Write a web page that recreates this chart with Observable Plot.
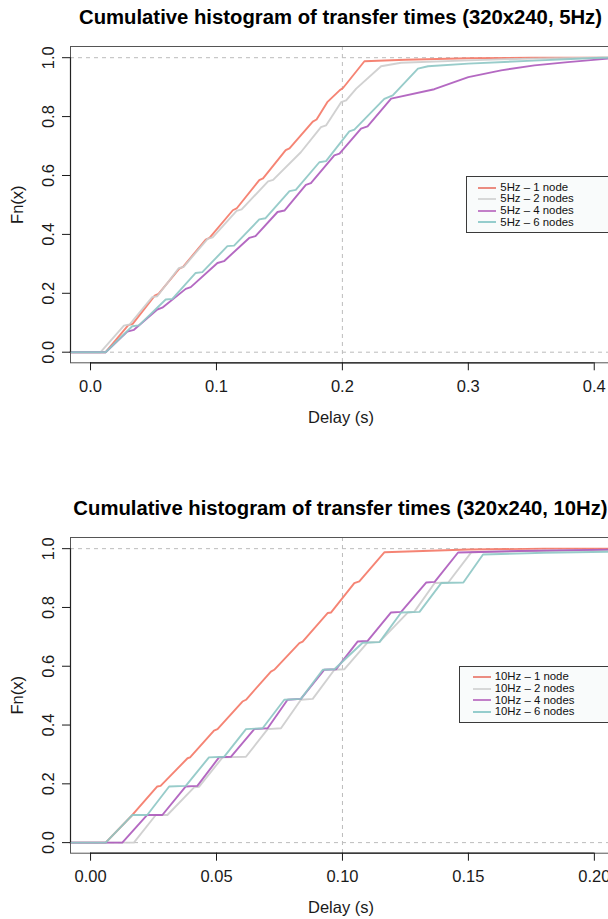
<!DOCTYPE html>
<html><head><meta charset="utf-8">
<script src="https://cdn.jsdelivr.net/npm/d3@7"></script>
<script src="https://cdn.jsdelivr.net/npm/@observablehq/plot@0.6"></script>
<style>
html,body{margin:0;padding:0;background:#fff;overflow:hidden;}
#wrap{width:608px;height:919px;overflow:hidden;position:relative;font-family:"Liberation Sans",Arial,Helvetica,sans-serif;}
.block{position:relative;width:620px;overflow:visible;}
.block > svg{display:block;}
.title{position:absolute;left:70px;width:541px;text-align:center;white-space:nowrap;font-weight:bold;font-size:20.3px;line-height:20px;color:#000;}
.legend{position:absolute;box-sizing:border-box;border:1px solid #3a3a3a;background:#f9fbfb;font-size:11.4px;line-height:11.6px;color:#111;padding-top:4.8px;}
.row{display:flex;align-items:center;height:11.6px;white-space:nowrap;}
.sw{display:block;width:18px;height:4px;margin-right:4px;flex:none;}
</style></head><body><div id="wrap"></div>
<script>
// ---------- data ----------
const seriesNames = ["1 node", "2 nodes", "4 nodes", "6 nodes"];
const lineColors = ["#f47a68", "#cdcdcd", "#ae5cbd", "#8fc8c6"];
const legendColors = ["#e4503f", "#c4c4c4", "#a43cac", "#5fb4b3"];

const yTicks = [0, 0.2, 0.4, 0.6, 0.8, 1.0];
const xTicks5 = [0, 0.1, 0.2, 0.3, 0.4];
const xTickLabels5 = ["0.0", "0.1", "0.2", "0.3", "0.4"];
const xTicks10 = [0, 0.05, 0.10, 0.15, 0.20];
const xTickLabels10 = ["0.00", "0.05", "0.10", "0.15", "0.20"];

// 5 Hz: [delay (s), Fn(x)]
const hz5_1node = [[0.012,0],[0.030,0.092],[0.0335,0.096],[0.051,0.192],[0.054,0.198],[0.0705,0.284],[0.0735,0.29],[0.0915,0.382],[0.0945,0.388],[0.113,0.482],[0.116,0.488],[0.134,0.584],[0.137,0.59],[0.155,0.686],[0.158,0.692],[0.1765,0.783],[0.1795,0.79],[0.188,0.849],[0.198,0.890],[0.2005,0.897],[0.2175,0.988],[0.25,0.993],[0.30,0.998],[0.35,1.0]];
const hz5_2nodes = [[0.008,0],[0.0265,0.09],[0.031,0.094],[0.049,0.187],[0.053,0.19],[0.07,0.285],[0.074,0.29],[0.093,0.385],[0.097,0.39],[0.116,0.48],[0.12,0.485],[0.141,0.58],[0.145,0.585],[0.167,0.679],[0.183,0.764],[0.187,0.77],[0.199,0.849],[0.203,0.855],[0.211,0.895],[0.2307,0.971],[0.2466,0.983],[0.30,0.991],[0.35,0.997],[0.40,1.0]];
const hz5_4nodes = [[0.012,0],[0.0292,0.070],[0.0345,0.076],[0.053,0.145],[0.057,0.151],[0.0756,0.215],[0.0796,0.221],[0.1008,0.303],[0.106,0.309],[0.126,0.388],[0.131,0.394],[0.1485,0.476],[0.154,0.481],[0.171,0.568],[0.175,0.574],[0.1936,0.668],[0.1977,0.674],[0.2148,0.759],[0.22,0.767],[0.2387,0.861],[0.273,0.893],[0.30,0.934],[0.326,0.957],[0.3525,0.974],[0.379,0.985],[0.411,0.997]];
const hz5_6nodes = [[0.012,0],[0.0331,0.088],[0.0385,0.091],[0.0597,0.179],[0.065,0.181],[0.0835,0.269],[0.0888,0.272],[0.1087,0.36],[0.114,0.362],[0.134,0.451],[0.139,0.455],[0.158,0.547],[0.163,0.551],[0.1817,0.645],[0.187,0.649],[0.2055,0.75],[0.2095,0.756],[0.2333,0.86],[0.24,0.872],[0.26,0.963],[0.268,0.971],[0.30,0.98],[0.352,0.99],[0.406,1.0]];

// 10 Hz
const hz10_1node = [[0.006,0],[0.0166,0.094],[0.0265,0.191],[0.0278,0.193],[0.0385,0.287],[0.0395,0.29],[0.049,0.381],[0.0504,0.386],[0.0603,0.48],[0.0617,0.486],[0.0716,0.582],[0.0729,0.588],[0.0829,0.679],[0.0842,0.684],[0.0941,0.781],[0.0955,0.783],[0.1047,0.883],[0.1067,0.889],[0.1167,0.988],[0.15,0.997],[0.18,1.0]];
const hz10_2nodes = [[0.0172,0],[0.0259,0.094],[0.0305,0.094],[0.0411,0.188],[0.0431,0.19],[0.0524,0.29],[0.0617,0.292],[0.0703,0.386],[0.0756,0.389],[0.0835,0.486],[0.0882,0.489],[0.0968,0.588],[0.1008,0.59],[0.11,0.681],[0.1147,0.683],[0.126,0.783],[0.1285,0.785],[0.1366,0.883],[0.142,0.885],[0.1512,0.988],[0.18,0.993],[0.207,0.996]];
const hz10_4nodes = [[0.0126,0],[0.0225,0.094],[0.0285,0.094],[0.0378,0.191],[0.0424,0.193],[0.051,0.29],[0.0557,0.292],[0.065,0.386],[0.0703,0.389],[0.0782,0.486],[0.0835,0.489],[0.0928,0.588],[0.0975,0.59],[0.106,0.684],[0.110,0.686],[0.1193,0.783],[0.1233,0.785],[0.1333,0.885],[0.1366,0.887],[0.1459,0.987],[0.17,0.992],[0.207,0.997]];
const hz10_6nodes = [[0.006,0],[0.0166,0.094],[0.0225,0.094],[0.0312,0.191],[0.0378,0.193],[0.047,0.29],[0.053,0.292],[0.0617,0.386],[0.0683,0.389],[0.0769,0.486],[0.0835,0.489],[0.0922,0.588],[0.0968,0.59],[0.108,0.68],[0.1147,0.682],[0.1233,0.783],[0.1306,0.785],[0.1392,0.883],[0.148,0.885],[0.1558,0.98],[0.18,0.986],[0.207,0.99]];

// ---------- drawing ----------
const FONT = '"Liberation Sans", Arial, Helvetica, sans-serif';
const yDomain = [-0.036, 1.038];
const SVGNS = "http://www.w3.org/2000/svg";

function panel({title, rate, series, xDomain, xTicks, xLabels, vline, height, marginBottom, legendBox}) {
  const block = document.createElement("div");
  block.className = "block";
  block.style.height = height + "px";

  const marks = [
    Plot.ruleY([0, 1], {stroke: "#bcbcbc", strokeDasharray: "4,4", strokeWidth: 1}),
    Plot.ruleX([vline], {stroke: "#bcbcbc", strokeDasharray: "4,4", strokeWidth: 1})
  ];
  series.forEach((s, i) => {
    const last = s[s.length - 1];
    const pts = [[xDomain[0], 0], ...s, [xDomain[1], last[1]]].map(([x, F]) => ({x, F}));
    marks.push(Plot.line(pts, {x: "x", y: "F", stroke: lineColors[i], strokeWidth: 1.9, strokeOpacity: 0.92}));
  });
  marks.push(
    Plot.frame({stroke: "#555", strokeWidth: 1}),
    Plot.ruleY([yDomain[0]], {x1: xTicks[0], x2: xTicks[xTicks.length - 1], stroke: "#222", strokeWidth: 1.2}),
    Plot.ruleX([xDomain[0]], {y1: yTicks[0], y2: yTicks[yTicks.length - 1], stroke: "#222", strokeWidth: 1.2}),
    Plot.axisX({ticks: xTicks, tickSize: 8, tickPadding: 9.5, tickFormat: (d, i) => xLabels[i], fontSize: 16.5, label: null, color: "#1a1a1a"}),
    Plot.axisY({ticks: yTicks, tickSize: 8, tickPadding: 9, tickRotate: -90, tickFormat: d3.format(".1f"), fontSize: 16.5, label: null, color: "#1a1a1a"}),
    Plot.text(["Delay (s)"], {text: d => d, frameAnchor: "bottom", dy: 48.4, lineAnchor: "top", fontSize: 16.5, fill: "#1a1a1a"}),
    Plot.text(["Fn(x)"], {text: d => d, frameAnchor: "left", rotate: -90, dx: -48, lineAnchor: "bottom", textAnchor: "middle", fontSize: 16.5, fill: "#1a1a1a"})
  );

  const svg = Plot.plot({
    width: 620, height,
    marginLeft: 70, marginRight: 9, marginTop: 46, marginBottom,
    style: {fontFamily: FONT, background: "transparent"},
    x: {domain: xDomain, axis: null},
    y: {domain: yDomain, axis: null},
    marks
  });
  block.appendChild(svg);

  const t = document.createElement("div");
  t.className = "title";
  t.style.top = "6.6px";
  t.textContent = title;
  block.appendChild(t);

  const lg = document.createElement("div");
  lg.className = "legend";
  Object.assign(lg.style, {left: legendBox.left + "px", top: legendBox.top + "px", width: legendBox.width + "px", height: legendBox.height + "px", paddingLeft: legendBox.pad + "px"});
  seriesNames.forEach((n, i) => {
    const r = document.createElement("div");
    r.className = "row";
    const sw = document.createElementNS(SVGNS, "svg");
    sw.setAttribute("class", "sw");
    sw.setAttribute("width", "18");
    sw.setAttribute("height", "4");
    const ln = document.createElementNS(SVGNS, "line");
    ln.setAttribute("x1", "0"); ln.setAttribute("x2", "18");
    ln.setAttribute("y1", "2"); ln.setAttribute("y2", "2");
    ln.setAttribute("stroke", legendColors[i]);
    ln.setAttribute("stroke-width", "1.3");
    sw.appendChild(ln);
    r.appendChild(sw);
    const tx = document.createElement("span");
    tx.textContent = `${rate} \u2013 ${n}`;
    r.appendChild(tx);
    lg.appendChild(r);
  });
  block.appendChild(lg);
  return block;
}

const wrap = document.getElementById("wrap");
wrap.appendChild(panel({
  title: "Cumulative histogram of transfer times (320x240, 5Hz)",
  rate: "5Hz",
  series: [hz5_1node, hz5_2nodes, hz5_4nodes, hz5_6nodes],
  xDomain: [-0.0159, 0.4137], xTicks: xTicks5, xLabels: xTickLabels5, vline: 0.2,
  height: 491, marginBottom: 128.7,
  legendBox: {left: 466, top: 176, width: 145, height: 57, pad: 11.3}
}));
wrap.appendChild(panel({
  title: "Cumulative histogram of transfer times (320x240, 10Hz)",
  rate: "10Hz",
  series: [hz10_1node, hz10_2nodes, hz10_4nodes, hz10_6nodes],
  xDomain: [-0.00796, 0.2068], xTicks: xTicks10, xLabels: xTickLabels10, vline: 0.1,
  height: 428, marginBottom: 66.3,
  legendBox: {left: 459.3, top: 174.7, width: 152, height: 57.6, pad: 12.4}
}));
</script></body></html>
